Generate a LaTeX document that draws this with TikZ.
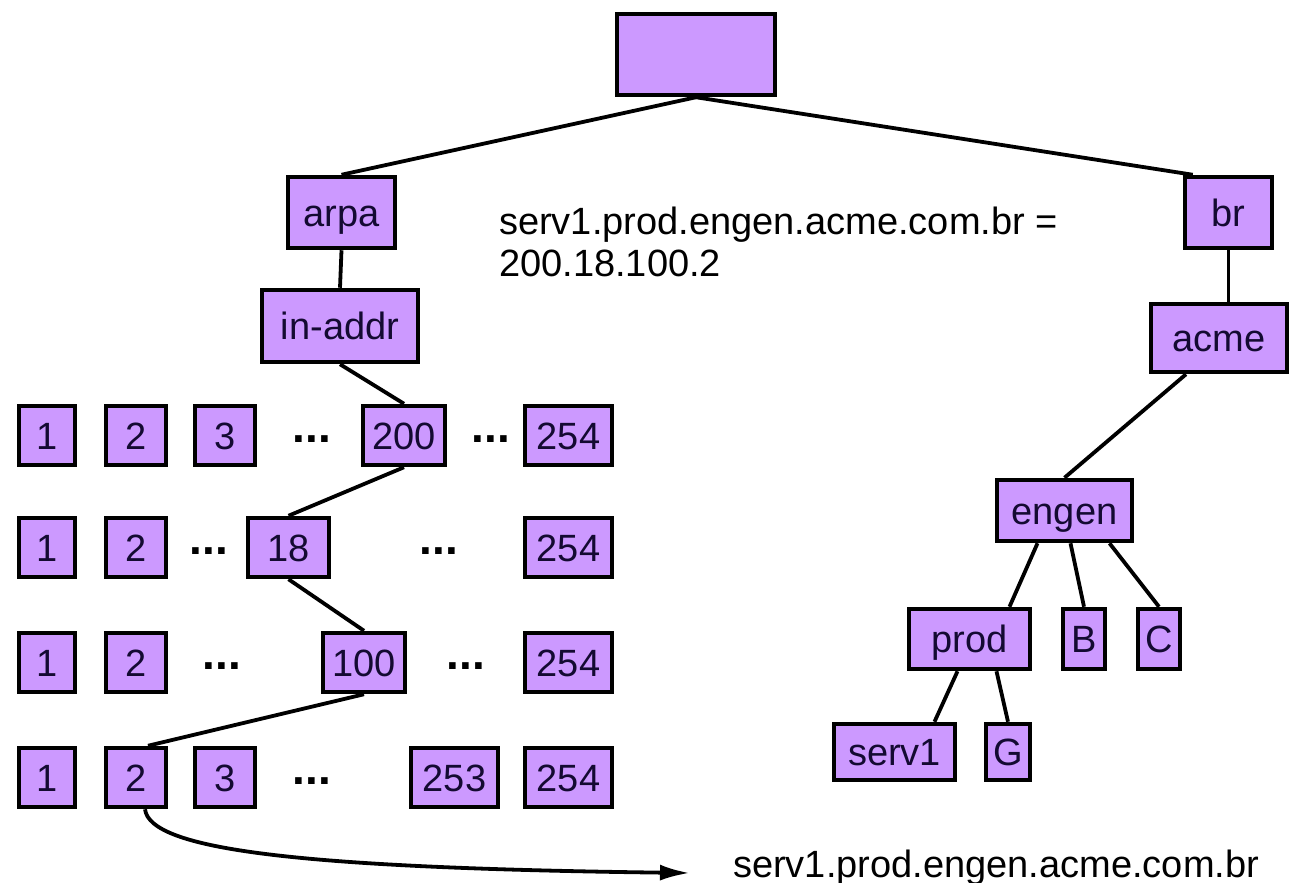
\documentclass[tikz,border=0pt]{standalone}
\usepackage{fontspec}
\setmainfont{Liberation Sans}
\usepackage{xcolor}
\usepackage{tikz}
\usetikzlibrary{arrows.meta}
\definecolor{boxfill}{RGB}{204,153,255}
\definecolor{labelink}{RGB}{20,10,50}
\newcommand{\dnsfont}{\fontsize{38}{42}\selectfont}
\tikzset{
  dnsbox/.style={rectangle,draw=black,line width=4.5pt,fill=boxfill,text=labelink,font=\dnsfont,inner sep=0pt,text height=27pt,text depth=0pt},
  octet/.style={dnsbox,minimum height=59pt},
  gap/.style={font=\bfseries\fontsize{46}{46}\selectfont,inner sep=0pt,anchor=base},
  note/.style={font=\dnsfont,inner sep=0pt,align=left},
  link/.style={line width=3.8pt,draw=black},
  arrow/.style={-{Latex[length=30pt,width=16pt]},line width=3.8pt,draw=black}
}

\begin{document}
\begin{tikzpicture}[x=1pt,y=-1pt]
  \fill[white] (0,0) rectangle (1291,883);
  \useasboundingbox (0,0) rectangle (1291,883);

  % top of the name tree
  \node[dnsbox,minimum width=158pt,minimum height=81pt] (root) at (696,54.5) {};
  \node[dnsbox,minimum width=107pt,minimum height=71pt] (arpa) at (341.5,212.5) {arpa};
  \node[dnsbox,minimum width=87pt,minimum height=71pt] (br) at (1228.5,212.5) {br};
  \node[dnsbox,minimum width=156pt,minimum height=72pt] (inaddr) at (340,326) {in-addr};
  \node[dnsbox,minimum width=136pt,minimum height=68pt] (acme) at (1219,338) {acme};

  \node[note,anchor=north west] (query) at (499,207) {serv1.prod.engen.acme.com.br =\\200.18.100.2};

  % reverse zone, one row per octet
  \node[octet,minimum width=56pt] (a1) at (47,435.5) {1};
  \node[octet,minimum width=60pt] (a2) at (136,435.5) {2};
  \node[octet,minimum width=60pt] (a3) at (225,435.5) {3};
  \node[gap] (adots) at (312,442.5) {...};
  \node[octet,minimum width=82pt] (a200) at (404,435.5) {200};
  \node[gap] (adotsb) at (491,442.5) {...};
  \node[octet,minimum width=87pt] (a254) at (568.5,435.5) {254};

  \node[octet,minimum width=56pt] (b1) at (47,547.5) {1};
  \node[octet,minimum width=60pt] (b2) at (136,547.5) {2};
  \node[gap] (bdots) at (209,554.5) {...};
  \node[octet,minimum width=81pt] (b18) at (288.5,547.5) {18};
  \node[gap] (bdotsb) at (439,554.5) {...};
  \node[octet,minimum width=87pt] (b254) at (568.5,547.5) {254};

  \node[octet,minimum width=56pt] (c1) at (47,662.5) {1};
  \node[octet,minimum width=60pt] (c2) at (136,662.5) {2};
  \node[gap] (cdots) at (222,669.5) {...};
  \node[octet,minimum width=82pt] (c100) at (364,662.5) {100};
  \node[gap] (cdotsb) at (466,669.5) {...};
  \node[octet,minimum width=87pt] (c254) at (568.5,662.5) {254};

  \node[octet,minimum width=56pt] (d1) at (47,777.5) {1};
  \node[octet,minimum width=60pt] (d2) at (136,777.5) {2};
  \node[octet,minimum width=60pt] (d3) at (225,777.5) {3};
  \node[gap] (ddots) at (312,784.5) {...};
  \node[octet,minimum width=87pt] (d253) at (454.5,777.5) {253};
  \node[octet,minimum width=87pt] (d254) at (568.5,777.5) {254};

  % forward zone under acme
  \node[dnsbox,minimum width=135pt,minimum height=61pt] (engen) at (1064.5,510.5) {engen};
  \node[dnsbox,minimum width=121pt,minimum height=60pt] (prod) at (969.5,639) {prod};
  \node[dnsbox,minimum width=42pt,minimum height=60pt] (hostb) at (1084,639) {B};
  \node[dnsbox,minimum width=42pt,minimum height=60pt] (hostc) at (1159,639) {C};
  \node[dnsbox,minimum width=121pt,minimum height=56pt] (servone) at (894.5,752) {serv1};
  \node[dnsbox,minimum width=44pt,minimum height=56pt] (hostg) at (1008,752) {G};

  \node[note,anchor=base west] (answer) at (733,877) {serv1.prod.engen.acme.com.br};
  \coordinate (tip) at (690,873);

  \draw[link] (root.south) -- (arpa.north);
  \draw[link] (root.south) -- ([xshift=10pt]br.north west);
  \draw[link] (arpa.south) -- (inaddr.north);
  \draw[link] (br.south) -- (br.south |- acme.north);
  \draw[link] (inaddr.south) -- (a200.north);
  \draw[link] (a200.south) -- (b18.north);
  \draw[link] (b18.south) -- (c100.north);
  \draw[link] (c100.south) -- ([xshift=12pt]d2.north);
  \draw[link] ([xshift=-33pt]acme.south) -- (engen.north);
  \draw[link] ([xshift=-27pt]engen.south) -- ([xshift=40pt]prod.north);
  \draw[link] ([xshift=6pt]engen.south) -- (hostb.north);
  \draw[link] ([xshift=45pt]engen.south) -- (hostc.north);
  \draw[link] ([xshift=-12pt]prod.south) -- ([xshift=40pt]servone.north);
  \draw[link] ([xshift=27pt]prod.south) -- (hostg.north);

  % lookup result
  \draw[arrow] ([xshift=9pt]d2.south) .. controls (150,850) and (300,868) .. (tip);
\end{tikzpicture}
\end{document}
